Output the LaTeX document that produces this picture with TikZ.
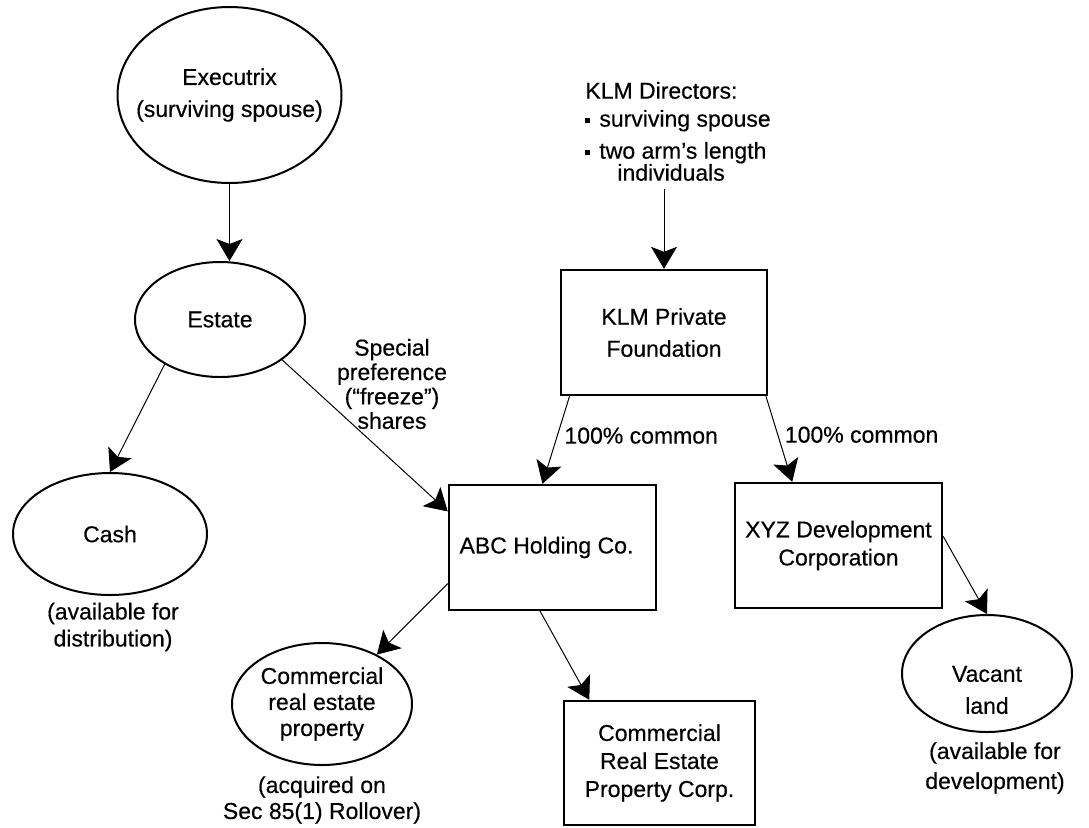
\documentclass[tikz,border=0pt]{standalone}
\usepackage{fontspec}
\setmainfont{Liberation Sans}[FakeBold=0.4]
\usetikzlibrary{shapes.geometric,arrows.meta}

\tikzset{
	entity/.style={draw, ellipse, line width=1pt, inner xsep=-10pt, inner ysep=0pt, align=center},
	company/.style={draw, rectangle, line width=1.2pt, align=center},
	flow/.style={-{Stealth[length=11pt,width=13pt,inset=2.5pt]}, line width=0.5pt},
	note/.style={align=center, inner sep=0pt},
	lead/.style={font=\fontsize{11.5}{#1}\selectfont},
}
\newcommand{\sqbullet}{\rule[2pt]{2.5pt}{2.5pt}\hspace{4.5pt}}

\begin{document}
\begin{tikzpicture}[x=0.5pt, y=-0.5pt, font=\fontsize{11.5}{16}\selectfont]
	\useasboundingbox (0,0) rectangle (1089,827);
	% estate side
	\node[entity, minimum width=112pt, minimum height=88pt] (exec) at (229.5,95) {Executrix\\(surviving spouse)};
	\node[entity, minimum width=85pt, minimum height=57.5pt] (estate) at (220,319.5) {Estate};
	\node[entity, minimum width=97pt, minimum height=61pt] (cash) at (110,534) {Cash};
	\node[note, lead=13.5pt] (cashnote) at (113,627) {(available for\\distribution)};
	\node[note, lead=12.2pt] (freeze) at (392,384) {Special\\preference\\(“freeze”)\\shares};

	% foundation side
	\node[note, align=left, anchor=north west, outer ysep=4pt, lead=14pt] (directors) at (585,74)
		{KLM Directors:\\\sqbullet surviving spouse\\[2pt]\sqbullet two arm’s length\\[-3pt]\hspace*{16pt}individuals};
	\node[company, minimum width=103pt, minimum height=62.5pt] (klm) at (664,332.5) {KLM Private\\Foundation};
	\node[company, minimum width=103.5pt, minimum height=62.5pt] (abc) at (552.5,547.5) {\hspace*{-6pt}\raisebox{-3pt}{ABC Holding Co.}};
	\node[company, minimum width=103.5pt, minimum height=62.5pt, lead=14pt] (xyz) at (838.5,545.5) {XYZ Development\\Corporation};

	% holdings
	\node[entity, minimum width=90pt, minimum height=61pt, lead=13pt] (comm) at (322,704) {Commercial\\real estate\\property};
	\node[note, lead=13pt] (commnote) at (322,800) {(acquired on\\Sec 85(1) Rollover)};
	\node[company, minimum width=95.5pt, minimum height=62pt, lead=14pt] (corp) at (659.5,763) {Commercial\\Real Estate\\Property Corp.};
	\node[entity, minimum width=85pt, minimum height=58.5pt] (vacant) at (987,673.5) {};
	\node[note] (vacantname) at (987,690) {Vacant\\land};
	\node[note, lead=15pt] (vacantnote) at (995,768) {(available for\\development)};

	% ownership arrows
	\draw[flow] (exec.south) -- (exec.south |- estate.north);
	\draw[flow] (estate.219) -- (cash.north);
	\draw[flow] (estate.327) -- (abc.161);
	\draw[flow] (klm.north |- directors.south) -- (klm.north);
	\draw[flow] (klm.214) -- node[pos=0.45, right] {100\% common} (abc.99);
	\draw[flow] (klm.328) -- node[pos=0.45, right] {100\% common} (xyz.126);
	\draw[flow] (xyz.5) -- (vacant.north);
	\draw[flow] (abc.199) -- (comm.42);
	\draw[flow] (abc.259) -- (corp.138);
\end{tikzpicture}
\end{document}
